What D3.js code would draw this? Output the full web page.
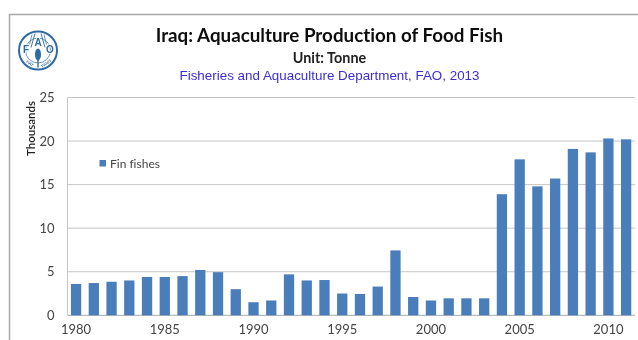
<!DOCTYPE html>
<html>
<head>
<meta charset="utf-8">
<script src="https://cdn.jsdelivr.net/npm/d3@7"></script>
<style>
html,body{margin:0;padding:0;background:#fff;}
svg{display:block;}
text{font-family:Lato,"Open Sans",sans-serif;font-variant-ligatures:none;}
</style>
</head>
<body>
<svg id="c" width="638" height="340"></svg>
<script>
const years = d3.range(1980, 2012);
const finFishes = [3.6,3.7,3.85,4,4.4,4.4,4.5,5.2,4.95,3,1.5,1.7,4.7,4,4.05,2.5,2.45,3.3,7.45,2.1,1.7,1.95,1.95,1.95,13.9,17.9,14.8,15.7,19.1,18.7,20.3,20.2];
const yTicks = [0,5,10,15,20,25];
const xTicks = [1980,1985,1990,1995,2000,2005,2010];
const titleText = "Iraq: Aquaculture Production of Food Fish";
const unitText = "Unit: Tonne";
const sourceText = "Fisheries and Aquaculture Department, FAO, 2013";
const seriesName = "Fin fishes";
const axisName = "Thousands";

const svg = d3.select("#c");
const defs = svg.append("defs");
defs.append("filter").attr("id","soft").append("feGaussianBlur").attr("stdDeviation",0.45);
const root = svg.append("g").attr("filter","url(#soft)");

// outer frame
root.append("path").attr("d","M9.5,340V14.5H638").attr("fill","none").attr("stroke","#a9a9a9").attr("stroke-width",1.5);

const x = d3.scaleBand().domain(years).range([67.2,635]).paddingInner(0.42).paddingOuter(0.21);
const y = d3.scaleLinear().domain([0,25]).range([315.3,97.5]);

// gridlines
root.append("g").selectAll("line").data(yTicks).join("line")
  .attr("x1",67.5).attr("x2",635).attr("y1",d=>y(d)).attr("y2",d=>y(d))
  .attr("stroke",d=>d===0?"#a8a8a8":"#c6c6c6").attr("stroke-width",1);
root.append("line").attr("x1",67.5).attr("x2",67.5).attr("y1",y(25)).attr("y2",y(0)).attr("stroke","#c6c6c6");

// bars
root.append("g").selectAll("rect").data(finFishes).join("rect")
  .attr("x",(d,i)=>x(years[i])).attr("width",x.bandwidth())
  .attr("y",d=>y(d)).attr("height",d=>y(0)-y(d)).attr("fill","#4a7ebb");

// y axis
const gy = root.append("g").attr("transform","translate(67.5,0)")
  .call(d3.axisLeft(y).tickValues(yTicks).tickSize(0).tickPadding(13));
gy.select(".domain").remove();
gy.selectAll("text").attr("font-size",13).attr("fill","#444").style("font-family","Lato");

// x axis
const gx = root.append("g").attr("transform",`translate(0,${y(0)})`)
  .call(d3.axisBottom(x).tickValues(xTicks).tickFormat(d3.format("d")).tickSize(0).tickPadding(9));
gx.select(".domain").remove();
gx.selectAll("text").attr("font-size",13).attr("fill","#444").style("font-family","Lato");

// axis name
root.append("text").attr("transform","translate(35,128.5) rotate(-90)")
  .attr("text-anchor","middle").attr("font-size",11.5).attr("font-weight",600).attr("fill","#222").text(axisName);

// legend
root.append("rect").attr("x",99.5).attr("y",160).attr("width",6.5).attr("height",6.5).attr("fill","#4a7ebb");
root.append("text").attr("x",110).attr("y",167.5).attr("font-size",12).attr("fill","#444").text(seriesName);

// titles
root.append("text").attr("x",329.5).attr("y",42).attr("text-anchor","middle")
  .attr("font-size",18.8).attr("font-weight",700).attr("fill","#111").text(titleText);
root.append("text").attr("x",329.5).attr("y",63).attr("text-anchor","middle")
  .attr("font-size",14.4).attr("font-weight",700).attr("fill","#222").text(unitText);
root.append("text").attr("x",329.5).attr("y",79.5).attr("text-anchor","middle")
  .attr("font-size",13.4).attr("fill","#3a2fd0").style("font-family","'Liberation Sans'").text(sourceText);

// FAO roundel
const logo = root.append("g").attr("transform","translate(38,50.5)");
const blue = "#2f6aa3";
logo.append("circle").attr("r",19).attr("fill","#fff").attr("stroke",blue).attr("stroke-width",2);
logo.append("circle").attr("r",12.5).attr("fill","none").attr("stroke",blue).attr("stroke-width",0.7);
logo.append("ellipse").attr("cx",0).attr("cy",4).attr("rx",3).attr("ry",6).attr("fill",blue);
logo.append("line").attr("x1",0).attr("x2",0).attr("y1",8).attr("y2",17).attr("stroke",blue).attr("stroke-width",1.4);
[-1,1].forEach(s=>{
  logo.append("line").attr("x1",s*3).attr("y1",-17).attr("x2",s*7).attr("y2",-3).attr("stroke",blue).attr("stroke-width",0.9);
  logo.append("line").attr("x1",s*6).attr("y1",-16).attr("x2",s*8.5).attr("y2",-6).attr("stroke",blue).attr("stroke-width",0.7);
});
const logoLetters = [["F",-12,2.5],["A",0,-5],["O",12,2.5]];
logo.selectAll("text.l").data(logoLetters).join("text").attr("class","l")
  .attr("x",d=>d[1]).attr("y",d=>d[2]).attr("text-anchor","middle")
  .attr("font-size",10).attr("font-weight",700).attr("fill",blue)
  .attr("stroke","#fff").attr("stroke-width",1.5).attr("paint-order","stroke")
  .style("font-family","'Liberation Sans'").text(d=>d[0]);
logo.append("text").attr("x",-9).attr("y",14).attr("text-anchor","middle").attr("font-size",3.8).attr("font-weight",700).attr("fill",blue).attr("transform","rotate(35 -9 14)").text("FIAT");
logo.append("text").attr("x",9).attr("y",14).attr("text-anchor","middle").attr("font-size",3.8).attr("font-weight",700).attr("fill",blue).attr("transform","rotate(-35 9 14)").text("PANIS");
</script>
</body>
</html>
